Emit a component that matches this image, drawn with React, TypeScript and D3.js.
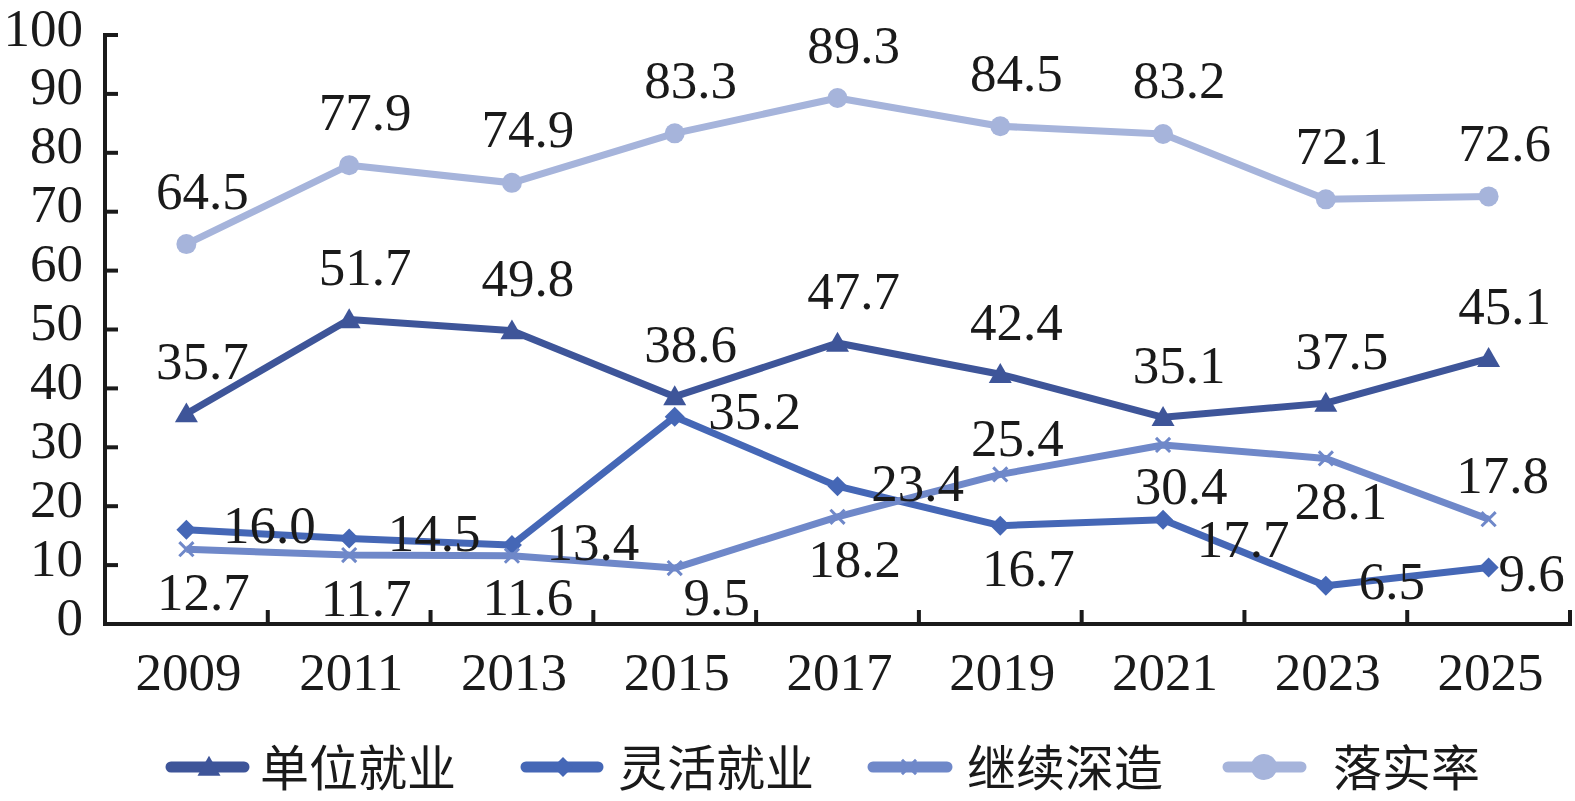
import * as d3 from "d3";

// categories and series values
const years = ["2009", "2011", "2013", "2015", "2017", "2019", "2021", "2023", "2025"];
const unitJob = [35.7, 51.7, 49.8, 38.6, 47.7, 42.4, 35.1, 37.5, 45.1];
const flexJob = [16.0, 14.5, 13.4, 35.2, 23.4, 16.7, 17.7, 6.5, 9.6];
const furtherStudy = [12.7, 11.7, 11.6, 9.5, 18.2, 25.4, 30.4, 28.1, 17.8];
const placementRate = [64.5, 77.9, 74.9, 83.3, 89.3, 84.5, 83.2, 72.1, 72.6];
const yTicks = [0, 10, 20, 30, 40, 50, 60, 70, 80, 90, 100];
const seriesNames = ["单位就业", "灵活就业", "继续深造", "落实率"];

// label placement (ink centre relative to the point, px) — hand placed in the source
const above: [number, number] = [16, -52];
const below: [number, number] = [17, 43];
const unitLabelPos = years.map(() => above);
const rateLabelPos = years.map(() => [16, -53] as [number, number]);
const flexLabelPos: [number, number][] = [
  [83, -4], [85, -5], [81, -3], [80, -5], [80, -3], [28, 43], [80, 20], [66, -4], [43, 6],
];
const furtherLabelPos: [number, number][] = [
  below, below, [16, 42], [42, 29], below, [17, -36], [18, 42], [15, 43], [14, -44],
];

const W = 1575;
const H = 801;
const FS = 53;
const serif = "'Liberation Serif', 'Times New Roman', serif";
const ink = "#1a1a1a";

const colors = ["#3e5599", "#4567b6", "#6f88c9", "#a6b4db"];

const x = d3.scaleBand<string>().domain(years).range([105, 1570]);
const y = d3.scaleLinear().domain([0, 100]).range([624, 35]);
const cx = (yr: string) => (x(yr) ?? 0) + x.bandwidth() / 2;

const triPath = d3.symbol(d3.symbolTriangle, 229)()!;
const diaPath = d3.symbol(d3.symbolSquare, 200)()!;
const xPath = d3.symbol(d3.symbolX, 132)()!;

function Marker({
  kind,
  color,
  tx,
  ty,
  r = 10,
}: {
  kind: number;
  color: string;
  tx: number;
  ty: number;
  r?: number;
}) {
  if (kind === 0) return <path d={triPath} transform={`translate(${tx},${ty + 2})`} fill={color} />;
  if (kind === 1) return <path d={diaPath} transform={`translate(${tx},${ty}) rotate(45)`} fill={color} />;
  if (kind === 2)
    return <path d={xPath} transform={`translate(${tx},${ty})`} fill="none" stroke={color} strokeWidth={3} />;
  return <circle cx={tx} cy={ty} r={r} fill={color} />;
}

export default function App() {
  const series = [
    { values: unitJob, pos: unitLabelPos },
    { values: flexJob, pos: flexLabelPos },
    { values: furtherStudy, pos: furtherLabelPos },
    { values: placementRate, pos: rateLabelPos },
  ];
  const line = d3
    .line<number>()
    .x((_, i) => cx(years[i]))
    .y((d) => y(d));
  const fmt = d3.format(".1f");

  // legend layout: line start/end, marker centre, text start
  const legendItems = [
    { x0: 171, x1: 244, m: 209, tx: 260 },
    { x0: 526, x1: 598, m: 563, tx: 618 },
    { x0: 873, x1: 947, m: 909, tx: 967 },
    { x0: 1228, x1: 1301, m: 1264, tx: 1333 },
  ];
  const legendY = 767;

  return (
    <svg
      width={W}
      height={H}
      style={{ position: "absolute", left: 0, top: 0, background: "#fff" }}
      fontFamily={serif}
    >
      {/* y axis */}
      <line x1={105} x2={105} y1={y(100) - 2} y2={y(0) + 2} stroke={ink} strokeWidth={4} />
      {yTicks.map((t) => (
        <g key={t}>
          <line x1={105} x2={118} y1={y(t)} y2={y(t)} stroke={ink} strokeWidth={4} />
          <text x={83} y={y(t) - 7 + FS * 0.331} textAnchor="end" fontSize={FS} fill={ink}>
            {t}
          </text>
        </g>
      ))}
      {/* x axis */}
      <line x1={103} x2={1572} y1={y(0)} y2={y(0)} stroke={ink} strokeWidth={4} />
      {years.map((yr) => (
        <g key={yr}>
          <line
            x1={(x(yr) ?? 0) + x.bandwidth()}
            x2={(x(yr) ?? 0) + x.bandwidth()}
            y1={y(0)}
            y2={y(0) - 14}
            stroke={ink}
            strokeWidth={4}
          />
          <text x={cx(yr) + 2} y={690} textAnchor="middle" fontSize={FS} fill={ink}>
            {yr}
          </text>
        </g>
      ))}

      {/* series lines + markers */}
      {series.map((s, k) => (
        <g key={k}>
          <path
            d={line(s.values) ?? ""}
            fill="none"
            stroke={colors[k]}
            strokeWidth={7}
            strokeLinejoin="round"
          />
          {s.values.map((v, i) => (
            <Marker key={i} kind={k} color={colors[k]} tx={cx(years[i])} ty={y(v)} />
          ))}
        </g>
      ))}

      {/* data labels */}
      {series.map((s, k) =>
        s.values.map((v, i) => (
          <text
            key={`${k}-${i}`}
            x={cx(years[i]) + s.pos[i][0]}
            y={y(v) + s.pos[i][1] + FS * 0.331}
            textAnchor="middle"
            fontSize={FS}
            fill={ink}
          >
            {fmt(v)}
          </text>
        ))
      )}

      {/* legend */}
      {legendItems.map((it, k) => (
        <g key={k}>
          <line
            x1={it.x0}
            x2={it.x1}
            y1={legendY}
            y2={legendY}
            stroke={colors[k]}
            strokeWidth={11}
            strokeLinecap="round"
          />
          <Marker kind={k} color={colors[k]} tx={it.m} ty={legendY} r={13} />
          <text
            x={it.tx}
            y={legendY - 3}
            dominantBaseline="central"
            fontSize={49}
            fontFamily="'Noto Sans CJK SC', sans-serif"
            fill={ink}
          >
            {seriesNames[k]}
          </text>
        </g>
      ))}
    </svg>
  );
}
